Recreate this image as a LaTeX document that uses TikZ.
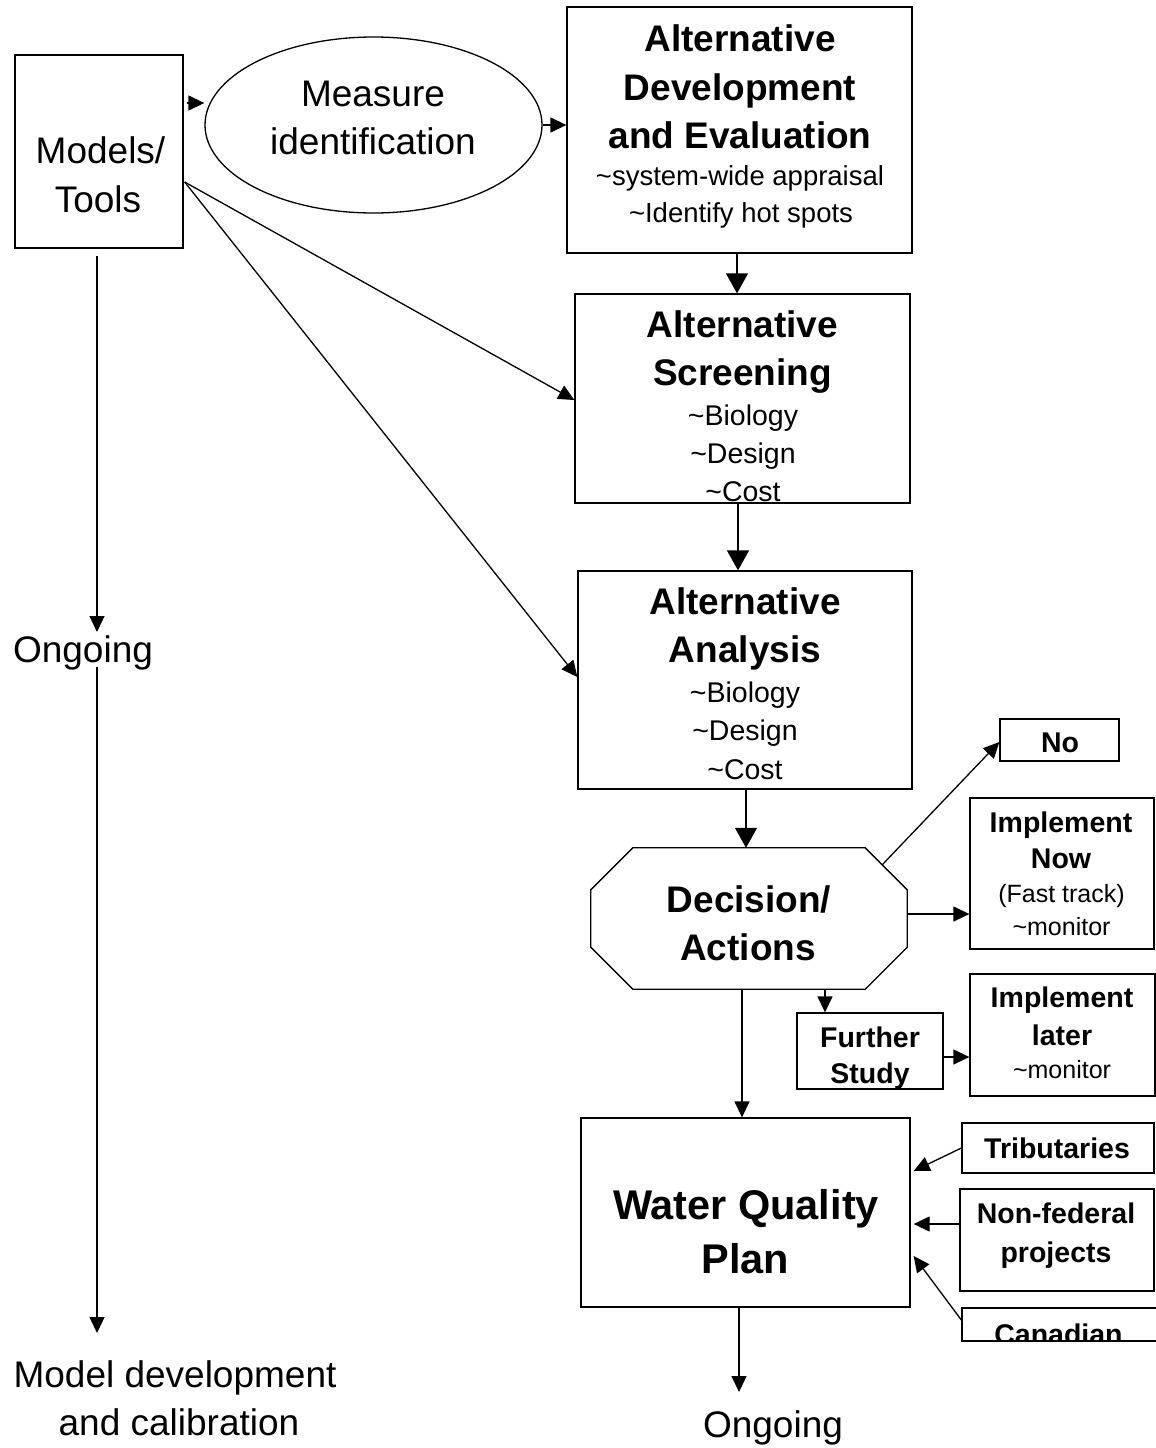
\documentclass[tikz,border=0pt]{standalone}
\usepackage{fontspec}
\setmainfont{Liberation Sans}
\usetikzlibrary{arrows.meta,calc,shapes.geometric}
\begin{document}
\begin{tikzpicture}[x=1pt,y=-1pt,
  box/.style={draw,line width=1.3pt,inner sep=0pt},
  tr/.style={anchor=base,inner sep=0pt,font=\fontsize{37}{44}\selectfont},
  tb/.style={anchor=base,inner sep=0pt,font=\fontsize{37}{44}\selectfont\bfseries},
  ts/.style={anchor=base,inner sep=0pt,font=\fontsize{28.5}{34}\selectfont},
  sb/.style={anchor=base,inner sep=0pt,font=\fontsize{28.5}{34}\selectfont\bfseries},
  tm/.style={anchor=base,inner sep=0pt,font=\fontsize{25}{30}\selectfont},
  con/.style={line width=1.3pt,-{Triangle[length=16pt,width=15pt]}},
  bigcon/.style={line width=1.3pt,-{Triangle[length=20pt,width=22pt]}}]
\fill[white] (0,0) rectangle (1156,1448);
\useasboundingbox (0,0) rectangle (1156,1448);

% boxes
\node[box,minimum width=168pt,minimum height=193pt] (models) at (99,151.5) {};
\node[draw,line width=1.3pt,ellipse,inner sep=0pt,minimum width=337pt,minimum height=176pt] (meas) at (373.5,125) {};
\node[box,minimum width=345pt,minimum height=246pt] (altdev) at (739.5,130) {};
\node[box,minimum width=335pt,minimum height=209pt] (scr) at (742.5,398.5) {};
\node[box,minimum width=334pt,minimum height=218pt] (ana) at (745,680) {};
\node[inner sep=0pt,minimum width=316pt,minimum height=141pt] (dec) at (749,918.5) {};
\draw[line width=1.3pt] ($(dec.north west)+(42,0)$) -- ($(dec.north east)+(-42,0)$)
  -- ($(dec.north east)+(0,42)$) -- ($(dec.south east)+(0,-42)$)
  -- ($(dec.south east)+(-42,0)$) -- ($(dec.south west)+(42,0)$)
  -- ($(dec.south west)+(0,-42)$) -- ($(dec.north west)+(0,42)$) -- cycle;
\node[box,minimum width=119pt,minimum height=42pt] (no) at (1059.5,740) {};
\node[box,minimum width=184pt,minimum height=151pt] (now) at (1062,873.5) {};
\node[box,minimum width=146pt,minimum height=76pt] (fs) at (870,1051) {};
\node[box,minimum width=185pt,minimum height=122pt] (later) at (1062.5,1035) {};
\node[box,minimum width=329pt,minimum height=189pt] (wqp) at (745.5,1212.5) {};
\node[box,minimum width=192pt,minimum height=50pt] (trib) at (1058,1148) {};
\node[box,minimum width=194pt,minimum height=102pt] (nonfed) at (1057,1240) {};
\node[box,minimum width=196pt,minimum height=33pt] (canad) at (1060,1324.5) {};

% texts
\node[tr] (t1) at (100.5,163) {Models/};
\node[tr] (t2) at (98,212) {Tools};
\node[tr] (t3) at (373,106) {Measure};
\node[tr] (t4) at (373,154) {identification};
\node[tb] (t5) at (740,51) {Alternative};
\node[tb] (t6) at (740,100) {Development};
\node[tb] (t7) at (740,148) {and Evaluation};
\node[anchor=base,inner sep=0pt,font=\fontsize{27.5}{33}\selectfont] (t8) at (740,185) {\textasciitilde system-wide appraisal};
\node[anchor=base,inner sep=0pt,font=\fontsize{27.5}{33}\selectfont] (t9) at (741,222) {\textasciitilde Identify hot spots};
\node[tb] (t10) at (742.5,337) {Alternative};
\node[tb] (t11) at (742.5,385) {Screening};
\node[ts] (t12) at (743,425) {\textasciitilde Biology};
\node[ts] (t13) at (743,463) {\textasciitilde Design};
\node[ts] (t14) at (743,501) {\textasciitilde Cost};
\node[tb] (t15) at (745,614) {Alternative};
\node[tb] (t16) at (745,662) {Analysis};
\node[ts] (t17) at (745,702) {\textasciitilde Biology};
\node[ts] (t18) at (745,740) {\textasciitilde Design};
\node[ts] (t19) at (745,779) {\textasciitilde Cost};
\node[tb] (t20) at (749,912) {Decision/};
\node[tb] (t21) at (748,960) {Actions};
\node[sb] (t22) at (1060,752) {No};
\node[sb] (t23) at (1061,832) {Implement};
\node[sb] (t24) at (1061,868) {Now};
\node[tm] (t25) at (1061.5,902) {(Fast track)};
\node[tm] (t26) at (1061.5,935) {\textasciitilde monitor};
\node[sb] (t27) at (1062,1007) {Implement};
\node[sb] (t28) at (1062,1045) {later};
\node[tm] (t29) at (1062,1078) {\textasciitilde monitor};
\node[sb] (t30) at (870,1047) {Further};
\node[sb] (t31) at (870,1083) {Study};
\node[anchor=base,inner sep=0pt,font=\fontsize{41.5}{48}\selectfont\bfseries] (t32) at (746,1219) {Water Quality};
\node[anchor=base,inner sep=0pt,font=\fontsize{41.5}{48}\selectfont\bfseries] (t33) at (745.5,1273) {Plan};
\node[sb] (t34) at (1057,1158) {Tributaries};
\node[sb] (t35) at (1056,1223) {Non-federal};
\node[sb] (t36) at (1056,1262) {projects};
\begin{scope}
  \clip (canad.south west) rectangle (canad.north east);
  \node[sb] (t37) at (1058.5,1344) {Canadian};
\end{scope}
\node[tr] (og2) at (773,1437) {Ongoing};
\node[tr] (og1) at (83,662) {Ongoing};
\node[tr] (md1) at (175,1387) {Model development};
\node[tr] (md2) at (179,1435) {and calibration};

% connector start points
\coordinate (c1) at ($(altdev.south)+(-2.5,0)$);
\coordinate (c2) at ($(scr.south)+(-4.5,0)$);
\coordinate (c3) at ($(ana.south)+(1,0)$);
\coordinate (c4) at ($(dec.east)+(1,-4.5)$);
\coordinate (c5) at ($(dec.south)+(76,0)$);
\coordinate (c6) at ($(fs.east)+(0,6)$);
\coordinate (c7) at ($(dec.south)+(-7,0)$);
\coordinate (c8) at ($(models.east)+(3,-48.5)$);

% connectors
\draw[con] (c8) -- (c8 -| meas.west);
\draw[con] (meas.east) -- (meas.east -| altdev.west);
\draw[bigcon] (c1) -- (c1 |- scr.north);
\draw[bigcon] (c2) -- (c2 |- ana.north);
\draw[bigcon] (c3) -- (c3 |- dec.north);
\draw[con] ($(dec.north east)+(-25,17)$) -- ($(no.west)+(0,2)$);
\draw[con] (c4) -- (c4 -| now.west);
\draw[con] (c5) -- (c5 |- fs.north);
\draw[con] (c6) -- (c6 -| later.west);
\draw[con] (c7) -- (c7 |- wqp.north);
\draw[con] (trib.west) -- ($(wqp.east)+(3,-41.5)$);
\draw[con] ($(nonfed.west)+(0,-16)$) -- ($(wqp.east)+(3,11.5)$);
\draw[con] ($(canad.west)+(0,-4.5)$) -- ($(wqp.east)+(3,43.5)$);
\draw[con] ($(wqp.south)+(-6.5,0)$) -- ($(og2.base)+(-34,-45)$);
\draw[con] ($(models.east)+(1,30.5)$) -- ($(scr.west)+(0,1.5)$);
\draw[con] ($(models.east)+(1,30.5)$) -- ($(ana.west)+(0,-3)$);
\draw[con] ($(models.south)+(-2,7)$) -- ($(og1.base)+(14,-30)$);
\draw[con] ($(og1.base)+(14,5)$) -- ($(md1.base)+(-78,-54)$);
\end{tikzpicture}
\end{document}
